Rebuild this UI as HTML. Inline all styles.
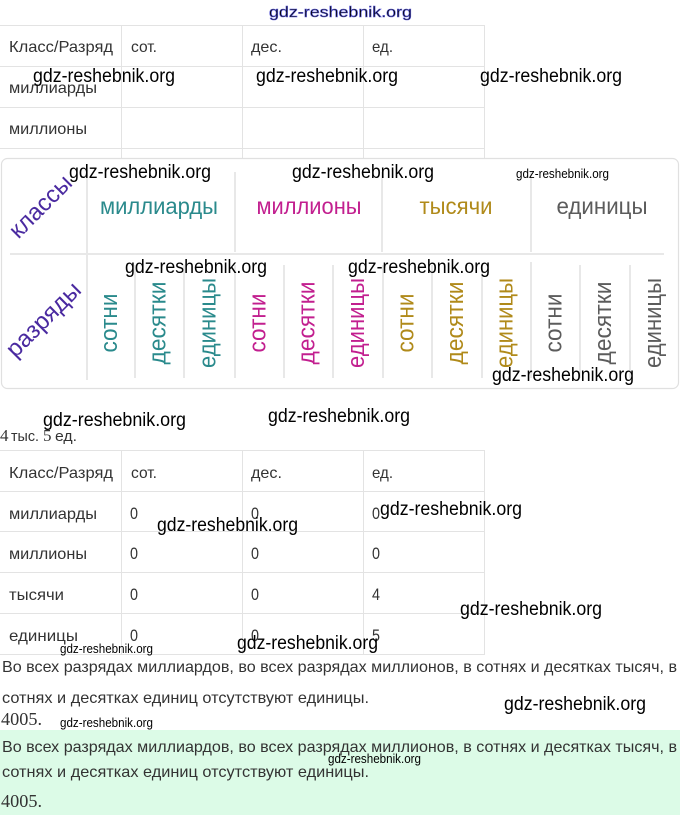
<!DOCTYPE html>
<html>
<head>
<meta charset="utf-8">
<style>
  html, body { margin:0; padding:0; background:#ffffff; }
  body { width:680px; height:815px; overflow:hidden; }
  svg { display:block; }
  .s { font-family: "Liberation Sans", "Noto Sans CJK JP", sans-serif; }
  .r { font-family: "Liberation Serif", serif; }
  .wm { font-family: "Liberation Sans", sans-serif; fill:#000; }
</style>
</head>
<body>
<svg width="680" height="815" viewBox="0 0 680 815" xmlns="http://www.w3.org/2000/svg">
  <rect x="0" y="0" width="680" height="815" fill="#ffffff"/>

  <!-- ===== TOP TABLE ===== -->
  <g stroke="#e3e3e3" stroke-width="1" fill="none">
    <line x1="0" y1="25.5" x2="485" y2="25.5"/>
    <line x1="0" y1="66.5" x2="485" y2="66.5"/>
    <line x1="0" y1="107.5" x2="485" y2="107.5"/>
    <line x1="0" y1="148.5" x2="485" y2="148.5"/>
    <line x1="121.5" y1="25" x2="121.5" y2="158"/>
    <line x1="242.5" y1="25" x2="242.5" y2="158"/>
    <line x1="363.5" y1="25" x2="363.5" y2="158"/>
    <line x1="484.5" y1="25" x2="484.5" y2="158"/>
  </g>
  <g class="s" font-size="16" fill="#333333">
    <text x="9" y="52" textLength="104" lengthAdjust="spacingAndGlyphs">Класс/Разряд</text>
    <text x="131" y="52" textLength="26" lengthAdjust="spacingAndGlyphs">сот.</text>
    <text x="251" y="52" textLength="31" lengthAdjust="spacingAndGlyphs">дес.</text>
    <text x="372" y="52" textLength="21" lengthAdjust="spacingAndGlyphs">ед.</text>
    <text x="9" y="93" textLength="88" lengthAdjust="spacingAndGlyphs">миллиарды</text>
    <text x="9" y="134" textLength="78" lengthAdjust="spacingAndGlyphs">миллионы</text>
  </g>

  <!-- ===== IMAGE BOX ===== -->
  <rect x="1.5" y="158.5" width="677" height="230" rx="6" ry="6" fill="#ffffff" stroke="#e0e0e0" stroke-width="1.2"/>
  <g stroke="#e8e8e8" stroke-width="2" fill="none">
    <line x1="87" y1="170" x2="87" y2="380"/>
    <line x1="235" y1="172" x2="235" y2="252"/>
    <line x1="382" y1="172" x2="382" y2="252"/>
    <line x1="531" y1="172" x2="531" y2="252"/>
    <line x1="10" y1="254" x2="664" y2="254"/>
    <line x1="135" y1="265" x2="135" y2="378"/>
    <line x1="184" y1="265" x2="184" y2="378"/>
    <line x1="235" y1="265" x2="235" y2="378"/>
    <line x1="284" y1="265" x2="284" y2="378"/>
    <line x1="333" y1="265" x2="333" y2="378"/>
    <line x1="383" y1="265" x2="383" y2="378"/>
    <line x1="432" y1="265" x2="432" y2="378"/>
    <line x1="482" y1="265" x2="482" y2="378"/>
    <line x1="531" y1="262" x2="531" y2="378"/>
    <line x1="580" y1="265" x2="580" y2="378"/>
    <line x1="630" y1="265" x2="630" y2="378"/>
  </g>

  <!-- diagonal labels -->
  <g class="s" font-size="24" fill="#4a2aa0">
    <text transform="translate(46,212) rotate(-45)" x="0" y="0" text-anchor="middle" textLength="78" lengthAdjust="spacingAndGlyphs">классы</text>
    <text transform="translate(49,325) rotate(-45)" x="0" y="0" text-anchor="middle" textLength="95" lengthAdjust="spacingAndGlyphs">разряды</text>
  </g>

  <!-- class headers -->
  <g class="s" font-size="23">
    <text x="159" y="214" text-anchor="middle" fill="#2a8a8c" textLength="118" lengthAdjust="spacingAndGlyphs">миллиарды</text>
    <text x="309" y="214" text-anchor="middle" fill="#c21f8f" textLength="105" lengthAdjust="spacingAndGlyphs">миллионы</text>
    <text x="456" y="214" text-anchor="middle" fill="#b08a1a" textLength="73" lengthAdjust="spacingAndGlyphs">тысячи</text>
    <text x="602" y="214" text-anchor="middle" fill="#5c5c5c" textLength="91" lengthAdjust="spacingAndGlyphs">единицы</text>
  </g>

  <!-- vertical digit labels -->
  <g class="s" font-size="24" text-anchor="middle">
    <text transform="translate(117,323) rotate(-90)" fill="#2a8a8c" textLength="59" lengthAdjust="spacingAndGlyphs">сотни</text>
    <text transform="translate(165.5,323) rotate(-90)" fill="#2a8a8c" textLength="83" lengthAdjust="spacingAndGlyphs">десятки</text>
    <text transform="translate(215.5,323) rotate(-90)" fill="#2a8a8c" textLength="90" lengthAdjust="spacingAndGlyphs">единицы</text>

    <text transform="translate(265.5,323) rotate(-90)" fill="#c21f8f" textLength="59" lengthAdjust="spacingAndGlyphs">сотни</text>
    <text transform="translate(314.5,323) rotate(-90)" fill="#c21f8f" textLength="83" lengthAdjust="spacingAndGlyphs">десятки</text>
    <text transform="translate(364,323) rotate(-90)" fill="#c21f8f" textLength="90" lengthAdjust="spacingAndGlyphs">единицы</text>

    <text transform="translate(413.5,323) rotate(-90)" fill="#b08a1a" textLength="59" lengthAdjust="spacingAndGlyphs">сотни</text>
    <text transform="translate(463,323) rotate(-90)" fill="#b08a1a" textLength="83" lengthAdjust="spacingAndGlyphs">десятки</text>
    <text transform="translate(512.5,323) rotate(-90)" fill="#b08a1a" textLength="90" lengthAdjust="spacingAndGlyphs">единицы</text>

    <text transform="translate(561.5,323) rotate(-90)" fill="#5c5c5c" textLength="59" lengthAdjust="spacingAndGlyphs">сотни</text>
    <text transform="translate(611,323) rotate(-90)" fill="#5c5c5c" textLength="83" lengthAdjust="spacingAndGlyphs">десятки</text>
    <text transform="translate(661,323) rotate(-90)" fill="#5c5c5c" textLength="90" lengthAdjust="spacingAndGlyphs">единицы</text>
  </g>

  <!-- ===== "4 тыс. 5 ед." ===== -->
  <text class="r" x="0" y="441" font-size="17" fill="#333">4</text>
  <text class="s" x="11" y="441" font-size="15" fill="#333" textLength="28" lengthAdjust="spacingAndGlyphs">тыс.</text>
  <text class="r" x="43" y="441" font-size="17" fill="#333">5</text>
  <text class="s" x="55" y="441" font-size="15" fill="#333" textLength="22" lengthAdjust="spacingAndGlyphs">ед.</text>

  <!-- ===== BOTTOM TABLE ===== -->
  <g stroke="#e3e3e3" stroke-width="1" fill="none">
    <line x1="0" y1="450.5" x2="485" y2="450.5"/>
    <line x1="0" y1="491.5" x2="485" y2="491.5"/>
    <line x1="0" y1="531.5" x2="485" y2="531.5"/>
    <line x1="0" y1="572.5" x2="485" y2="572.5"/>
    <line x1="0" y1="613.5" x2="485" y2="613.5"/>
    <line x1="0" y1="654.5" x2="485" y2="654.5"/>
    <line x1="121.5" y1="450" x2="121.5" y2="655"/>
    <line x1="242.5" y1="450" x2="242.5" y2="655"/>
    <line x1="363.5" y1="450" x2="363.5" y2="655"/>
    <line x1="484.5" y1="450" x2="484.5" y2="655"/>
  </g>
  <g class="s" font-size="16" fill="#333333">
    <text x="9" y="478" textLength="104" lengthAdjust="spacingAndGlyphs">Класс/Разряд</text>
    <text x="131" y="478" textLength="26" lengthAdjust="spacingAndGlyphs">сот.</text>
    <text x="251" y="478" textLength="31" lengthAdjust="spacingAndGlyphs">дес.</text>
    <text x="372" y="478" textLength="21" lengthAdjust="spacingAndGlyphs">ед.</text>

    <text x="9" y="519" textLength="88" lengthAdjust="spacingAndGlyphs">миллиарды</text>
    <text x="9" y="559" textLength="78" lengthAdjust="spacingAndGlyphs">миллионы</text>
    <text x="9" y="600" textLength="55" lengthAdjust="spacingAndGlyphs">тысячи</text>
    <text x="9" y="641" textLength="69" lengthAdjust="spacingAndGlyphs">единицы</text>
  </g>
  <g class="s" font-size="17" fill="#333333">
    <text x="130" y="519" textLength="8" lengthAdjust="spacingAndGlyphs">0</text>
    <text x="251" y="519" textLength="8" lengthAdjust="spacingAndGlyphs">0</text>
    <text x="372" y="519" textLength="8" lengthAdjust="spacingAndGlyphs">0</text>
    <text x="130" y="559" textLength="8" lengthAdjust="spacingAndGlyphs">0</text>
    <text x="251" y="559" textLength="8" lengthAdjust="spacingAndGlyphs">0</text>
    <text x="372" y="559" textLength="8" lengthAdjust="spacingAndGlyphs">0</text>
    <text x="130" y="600" textLength="8" lengthAdjust="spacingAndGlyphs">0</text>
    <text x="251" y="600" textLength="8" lengthAdjust="spacingAndGlyphs">0</text>
    <text x="372" y="600" textLength="8" lengthAdjust="spacingAndGlyphs">4</text>
    <text x="130" y="641" textLength="8" lengthAdjust="spacingAndGlyphs">0</text>
    <text x="251" y="641" textLength="8" lengthAdjust="spacingAndGlyphs">0</text>
    <text x="372" y="641" textLength="8" lengthAdjust="spacingAndGlyphs">5</text>
  </g>

  <!-- ===== PARAGRAPHS ===== -->
  <g class="s" font-size="16" fill="#333333">
    <text x="2" y="672" textLength="675" lengthAdjust="spacingAndGlyphs">Во всех разрядах миллиардов, во всех разрядах миллионов, в сотнях и десятках тысяч, в</text>
    <text x="2" y="703" textLength="367" lengthAdjust="spacingAndGlyphs">сотнях и десятках единиц отсутствуют единицы.</text>
  </g>
  <text class="r" x="1" y="725" font-size="18" fill="#333" textLength="41" lengthAdjust="spacingAndGlyphs">4005.</text>

  <rect x="0" y="730" width="680" height="85" fill="#dcfbe7"/>
  <g class="s" font-size="16" fill="#333333">
    <text x="2" y="752" textLength="675" lengthAdjust="spacingAndGlyphs">Во всех разрядах миллиардов, во всех разрядах миллионов, в сотнях и десятках тысяч, в</text>
    <text x="2" y="777" textLength="367" lengthAdjust="spacingAndGlyphs">сотнях и десятках единиц отсутствуют единицы.</text>
  </g>
  <text class="r" x="1" y="807" font-size="18" fill="#333" textLength="41" lengthAdjust="spacingAndGlyphs">4005.</text>

  <!-- ===== WATERMARKS ===== -->
  <text class="wm" x="269" y="17" font-size="15" fill="#ffffff" stroke="#5a5ad8" stroke-width="0.6" textLength="143" lengthAdjust="spacingAndGlyphs">gdz-reshebnik.org</text>

  <g class="wm" font-size="19">
    <text x="33" y="82" textLength="142" lengthAdjust="spacingAndGlyphs">gdz-reshebnik.org</text>
    <text x="256" y="82" textLength="142" lengthAdjust="spacingAndGlyphs">gdz-reshebnik.org</text>
    <text x="480" y="82" textLength="142" lengthAdjust="spacingAndGlyphs">gdz-reshebnik.org</text>
    <text x="69" y="178" textLength="142" lengthAdjust="spacingAndGlyphs">gdz-reshebnik.org</text>
    <text x="292" y="178" textLength="142" lengthAdjust="spacingAndGlyphs">gdz-reshebnik.org</text>
    <text x="125" y="273" textLength="142" lengthAdjust="spacingAndGlyphs">gdz-reshebnik.org</text>
    <text x="348" y="273" textLength="142" lengthAdjust="spacingAndGlyphs">gdz-reshebnik.org</text>
    <text x="492" y="381" textLength="142" lengthAdjust="spacingAndGlyphs">gdz-reshebnik.org</text>
    <text x="43" y="426" textLength="143" lengthAdjust="spacingAndGlyphs">gdz-reshebnik.org</text>
    <text x="268" y="422" textLength="142" lengthAdjust="spacingAndGlyphs">gdz-reshebnik.org</text>
    <text x="380" y="515" textLength="142" lengthAdjust="spacingAndGlyphs">gdz-reshebnik.org</text>
    <text x="157" y="531" textLength="141" lengthAdjust="spacingAndGlyphs">gdz-reshebnik.org</text>
    <text x="460" y="615" textLength="142" lengthAdjust="spacingAndGlyphs">gdz-reshebnik.org</text>
    <text x="237" y="649" textLength="141" lengthAdjust="spacingAndGlyphs">gdz-reshebnik.org</text>
    <text x="504" y="710" textLength="142" lengthAdjust="spacingAndGlyphs">gdz-reshebnik.org</text>
  </g>
  <g class="wm" font-size="12.5">
    <text x="516" y="178" textLength="93" lengthAdjust="spacingAndGlyphs">gdz-reshebnik.org</text>
    <text x="60" y="653" textLength="93" lengthAdjust="spacingAndGlyphs">gdz-reshebnik.org</text>
    <text x="60" y="727" textLength="93" lengthAdjust="spacingAndGlyphs">gdz-reshebnik.org</text>
    <text x="328" y="763" textLength="93" lengthAdjust="spacingAndGlyphs">gdz-reshebnik.org</text>
  </g>
</svg>
</body>
</html>
